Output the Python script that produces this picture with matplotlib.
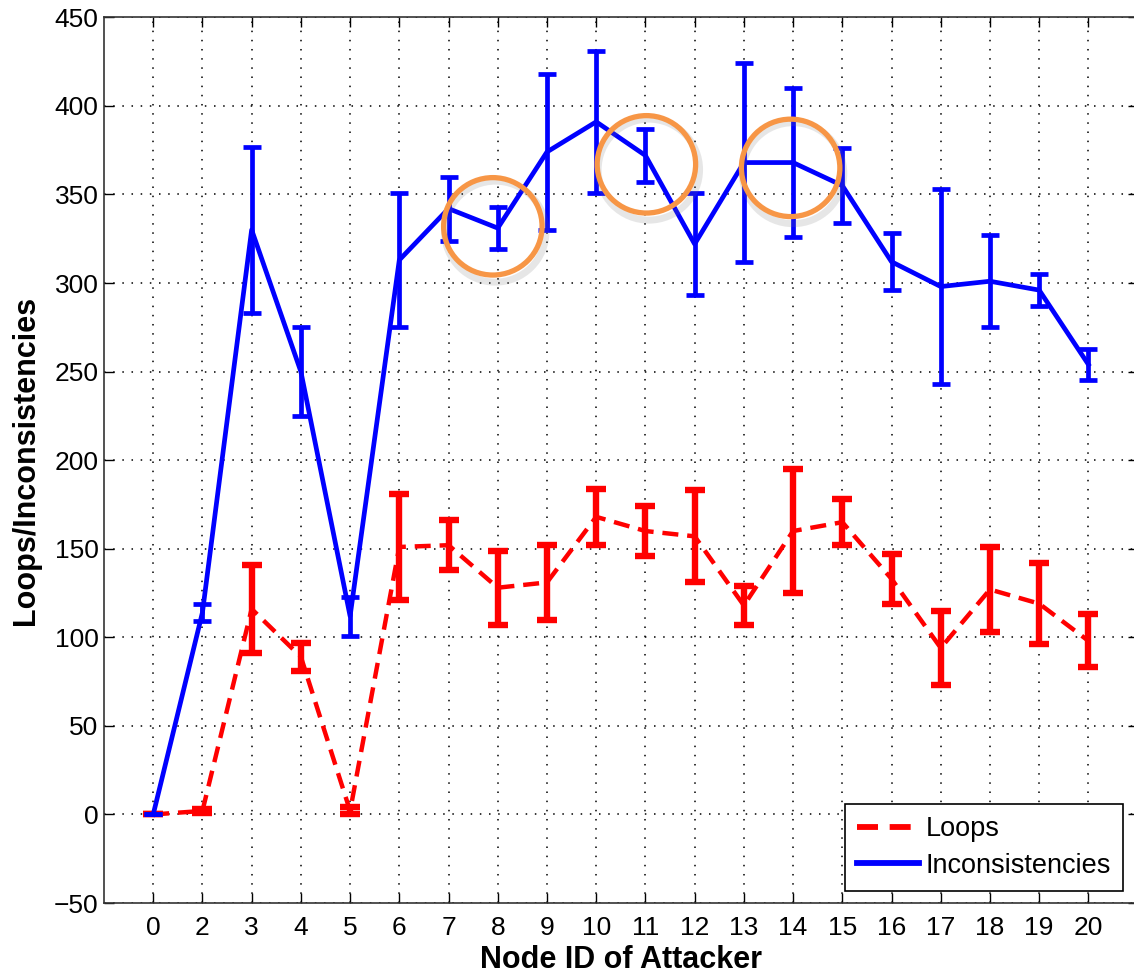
import numpy as np
import matplotlib.pyplot as plt
from matplotlib.patches import Ellipse
from matplotlib.lines import Line2D

plt.rcParams['font.family'] = ['Liberation Sans', 'DejaVu Sans']

# Node IDs of the attacker (node 1 is absent)
nodes = ["0", "2", "3", "4", "5", "6", "7", "8", "9", "10", "11", "12",
         "13", "14", "15", "16", "17", "18", "19", "20"]

# Loops: mean and error
loops = [0, 2, 116, 89, 2, 151, 152, 128, 131, 168, 160, 157,
         118, 160, 165, 133, 94, 127, 119, 98]
loops_err = [0, 1, 25, 8, 2, 30, 14, 21, 21, 16, 14, 26,
             11, 35, 13, 14, 21, 24, 23, 15]

# Inconsistencies: mean and error
incons = [0, 114, 330, 250, 112, 313, 342, 331, 374, 391, 372, 322,
          368, 368, 355, 312, 298, 301, 296, 254]
incons_err = [0, 5, 47, 25, 11, 38, 18, 12, 44, 40, 15, 29,
              56, 42, 21, 16, 55, 26, 9, 9]

# highlighted nodes (orange circles): node, circle centre value
highlight = ["8", "11", "14"]
highlight_y = [332, 367, 365]
highlight_dx = [-0.1, 0.02, -0.05]

RED = '#ff0000'
BLUE = '#0000ff'
ORANGE = '#f79646'


def main():
    fig = plt.figure(figsize=(11.34, 9.77), dpi=100)
    # right spine sits just outside the picture, as in the original
    ax = fig.add_axes([0.0917, 0.0757, 0.9115, 0.9066])

    x = np.arange(len(nodes))

    ax.errorbar(x, loops, yerr=loops_err, color=RED, lw=3.2,
                linestyle=(0, (3.6, 2.0)), elinewidth=4.6, capsize=7.2,
                capthick=4.6, zorder=3)
    ax.errorbar(x, incons, yerr=incons_err, color=BLUE, lw=3.4,
                linestyle='-', elinewidth=3.4, capsize=6.8, capthick=3.4,
                zorder=4)

    # orange circles around highlighted points
    for n, cy, dx in zip(highlight, highlight_y, highlight_dx):
        i = nodes.index(n) + dx
        shadow = Ellipse((i + 0.05, cy - 3), 2.06, 57, fill=False,
                         ec='#777777', lw=5, alpha=0.18, zorder=5)
        ax.add_patch(shadow)
        circ = Ellipse((i, cy), 2.0, 55, fill=False,
                       ec=ORANGE, lw=3.8, zorder=6)
        ax.add_patch(circ)

    ax.set_xlim(-1, 20)
    ax.set_ylim(-50, 450)
    ax.set_xticks(x)
    ax.set_xticklabels(nodes)
    ax.set_yticks(np.arange(-50, 451, 50))

    ax.grid(True, color='black', linestyle=(0, (1, 5)), linewidth=1.1)
    ax.tick_params(direction='in', length=7.5, width=1.0, top=True,
                   right=True, labelsize=19)
    ax.tick_params(axis='x', pad=9)
    ax.tick_params(axis='y', pad=4)
    for s in ax.spines.values():
        s.set_linewidth(1.2)
        s.set_color('#333333')

    ax.set_xlabel('Node ID of Attacker', fontsize=22, fontweight='bold',
                  labelpad=4)
    ax.set_ylabel('Loops/Inconsistencies', fontsize=22, fontweight='bold',
                  labelpad=9)

    handles = [
        Line2D([], [], color=RED, lw=4.2, linestyle=(0, (3.6, 2.0))),
        Line2D([], [], color=BLUE, lw=4.2, linestyle='-'),
    ]
    leg = ax.legend(handles, ['Loops', 'Inconsistencies'],
                    loc='lower right', fontsize=19.5, fancybox=False,
                    framealpha=1, edgecolor='black', handlelength=2.3,
                    bbox_to_anchor=(0.998, 0.0), borderaxespad=0.45,
                    handletextpad=0.25, borderpad=0.45, labelspacing=0.38)
    leg.get_frame().set_linewidth(1.2)

    fig.savefig('out.png', dpi=100)


if __name__ == "__main__":
    main()
